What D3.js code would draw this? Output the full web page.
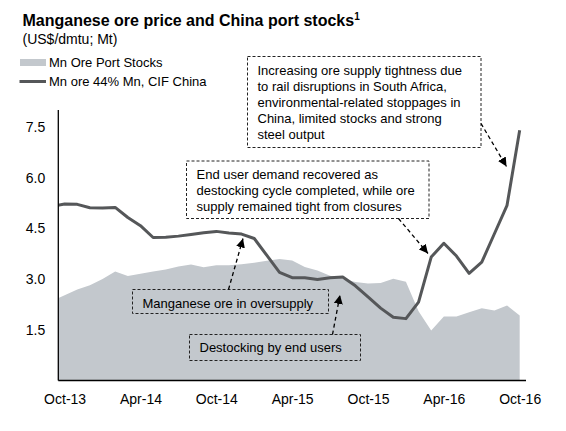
<!DOCTYPE html>
<html><head><meta charset="utf-8">
<script src="https://cdn.jsdelivr.net/npm/d3@7"></script>
<style>
html,body{margin:0;padding:0;background:#fff;}
text{font-family:"Liberation Sans",Arial,sans-serif;fill:#000;}
</style></head>
<body><svg id="c" width="566" height="431"></svg>
<script>
// month index: 0 = Oct-13 ... 36 = Oct-16 (-1 = Sep-13)
const months = d3.range(-1, 37);
const portStocks = [2.35,2.52,2.69,2.82,3.00,3.22,3.09,3.16,3.22,3.28,3.37,3.43,3.35,3.41,3.41,3.44,3.48,3.54,3.59,3.55,3.36,3.25,3.10,3.00,2.91,2.87,2.88,3.01,2.92,2.05,1.48,1.89,1.89,2.02,2.14,2.07,2.22,1.92];
const orePrice = [5.15,5.22,5.21,5.11,5.10,5.12,4.82,4.58,4.23,4.24,4.27,4.32,4.37,4.41,4.36,4.33,4.20,3.70,3.20,3.04,3.04,2.99,3.04,3.06,2.80,2.47,2.14,1.87,1.83,2.32,3.65,4.06,3.68,3.17,3.50,4.34,5.18,7.40];
const tickMonths = [0,6,12,18,24,30,36];
const tickLabels = ["Oct-13","Apr-14","Oct-14","Apr-15","Oct-15","Apr-16","Oct-16"];
const yTicks = [1.5,3.0,4.5,6.0,7.5];

const svg = d3.select("#c");
const x = d3.scaleLinear().domain([-0.5, 36.5]).range([58.3, 526]);
const y = d3.scaleLinear().domain([0, 8]).range([380.5, 110]);

svg.append("defs").append("clipPath").attr("id","clip")
  .append("rect").attr("x",x(-0.5)).attr("y",100).attr("width",x(36.5)-x(-0.5)).attr("height",281);
const defs = svg.select("defs");
defs.append("marker").attr("id","arr").attr("viewBox","0 0 10 10").attr("refX",10).attr("refY",5)
  .attr("markerWidth",9).attr("markerHeight",9).attr("markerUnits","userSpaceOnUse").attr("orient","auto")
  .append("path").attr("d","M0,0L10,5L0,10Z").attr("fill","#000");

const data = months.map((m,i)=>({m, s:portStocks[i], p:orePrice[i]}));
const g = svg.append("g").attr("clip-path","url(#clip)");
g.append("path").datum(data)
  .attr("d", d3.area().x(d=>x(d.m)).y0(y(0)).y1(d=>y(d.s)))
  .attr("fill","#c3c8cd");
g.append("path").datum(data)
  .attr("d", d3.line().x(d=>x(d.m)).y(d=>y(d.p)))
  .attr("fill","none").attr("stroke","#555759").attr("stroke-width",3).attr("stroke-linejoin","round");

// axes
const xAxis = svg.append("g").attr("transform",`translate(0,${y(0)})`)
  .call(d3.axisBottom(x).tickValues(tickMonths).tickFormat((d,i)=>tickLabels[i]).tickSize(0).tickPadding(14));
xAxis.select(".domain").attr("stroke","#000").attr("stroke-width",1.3).attr("d",`M${x(-0.5)},0H${x(36.5)}`);
xAxis.selectAll("text").attr("font-size",14).attr("font-family","Liberation Sans, Arial, sans-serif").attr("fill","#000");

const yAxis = svg.append("g").attr("transform",`translate(${x(-0.5)},0)`)
  .call(d3.axisLeft(y).tickValues(yTicks).tickFormat(d3.format(".1f")).tickSize(0).tickPadding(13));
yAxis.select(".domain").attr("stroke","#000").attr("stroke-width",1.3).attr("d",`M0,${y(8)}V${y(0)}`);
yAxis.selectAll("text").attr("font-size",14).attr("font-family","Liberation Sans, Arial, sans-serif").attr("fill","#000");

// title
svg.append("text").attr("x",22.5).attr("y",26).attr("font-size",16).attr("font-weight","bold")
  .text("Manganese ore price and China port stocks")
  .append("tspan").attr("font-size",10).attr("dy",-6).text("1");
svg.append("text").attr("x",22.5).attr("y",43.5).attr("font-size",14).text("(US$/dmtu; Mt)");

// legend
svg.append("rect").attr("x",20).attr("y",59).attr("width",26).attr("height",7).attr("fill","#c3c8cd");
svg.append("text").attr("x",49).attr("y",67).attr("font-size",13).text("Mn Ore Port Stocks");
svg.append("line").attr("x1",19.5).attr("x2",46).attr("y1",81.5).attr("y2",81.5).attr("stroke","#555759").attr("stroke-width",3);
svg.append("text").attr("x",49).attr("y",86).attr("font-size",13).text("Mn ore 44% Mn, CIF China");

// annotations
const notes = [
  {box:[247.5,56.5,481,147.5], tx:257.5, ty:75, lines:["Increasing ore supply tightness due","to rail disruptions in South Africa,","environmental-related stoppages in","China, limited stocks and strong","steel output"], arrow:[481,123.5,506.5,166.5]},
  {box:[186.5,161,429,218.5], tx:196.5, ty:179, lines:["End user demand recovered as","destocking cycle completed, while ore","supply remained tight from closures"], arrow:[398.5,218.5,428,253.5]},
  {box:[132.5,289.5,328.5,313.5], tx:142.5, ty:308, lines:["Manganese ore in oversupply"], arrow:[228.5,289.5,243,238.5]},
  {box:[189.5,334.5,360.5,360.5], tx:199.5, ty:352, lines:["Destocking by end users"], arrow:[332.5,334.5,340,295]}
];
notes.forEach(n=>{
  const [x0,y0,x1,y1]=n.box;
  svg.append("rect").attr("x",x0).attr("y",y0).attr("width",x1-x0).attr("height",y1-y0)
    .attr("fill","none").attr("stroke","#222").attr("stroke-width",1).attr("stroke-dasharray","3,2");
  const t = svg.append("text").attr("font-size",13);
  n.lines.forEach((l,i)=>t.append("tspan").attr("x",n.tx).attr("y",n.ty+i*16).text(l));
  const [ax0,ay0,ax1,ay1]=n.arrow;
  svg.append("line").attr("x1",ax0).attr("y1",ay0).attr("x2",ax1).attr("y2",ay1)
    .attr("stroke","#000").attr("stroke-width",1.3).attr("stroke-dasharray","4,3").attr("marker-end","url(#arr)");
});
</script></body></html>
